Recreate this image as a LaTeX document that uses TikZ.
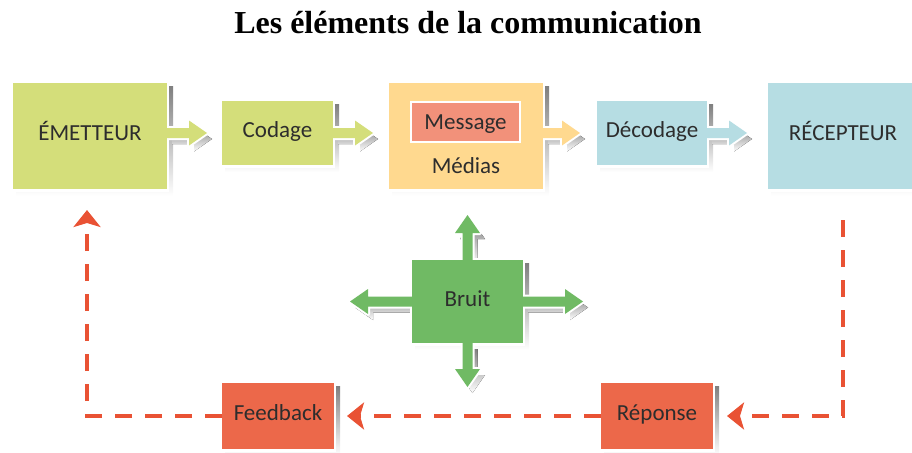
\documentclass[tikz,border=0pt]{standalone}
\usepackage{fontspec}
\setmainfont{Carlito}
\newfontfamily\titlefont{Liberation Serif}
\usetikzlibrary{calc,arrows.meta}

\definecolor{leaf}{RGB}{212,222,122}
\definecolor{sand}{RGB}{255,217,143}
\definecolor{salmon}{RGB}{242,145,122}
\definecolor{sky}{RGB}{182,221,227}
\definecolor{grass}{RGB}{112,186,100}
\definecolor{brick}{RGB}{236,104,74}
\definecolor{signal}{RGB}{233,82,52}
\definecolor{ink}{RGB}{45,45,45}
\definecolor{shade}{RGB}{158,158,158}

\pgfdeclarelayer{shadow}
\pgfdeclarelayer{halo}
\pgfdeclarelayer{paint}
\pgfsetlayers{shadow,halo,paint,main}

% coloured box behind a named node: offset shadow, white rim, fill
\newcommand\paintbox[2]{%
  \begin{pgfonlayer}{shadow}
    \fill[shade] ($(#1.north west)+(3,3)$) rectangle ($(#1.south east)+(6,7)$);
  \end{pgfonlayer}
  \begin{pgfonlayer}{halo}
    \fill[white] ($(#1.north west)+(-2,-2)$) rectangle ($(#1.south east)+(2,3)$);
  \end{pgfonlayer}
  \begin{pgfonlayer}{paint}
    \fill[#2] (#1.north west) rectangle (#1.south east);
  \end{pgfonlayer}}

% block arrow from a base point to a tip point, same three layers
\newcommand\blockarrow[3]{%
  \coordinate (hb) at ($(#3)!18pt!(#2)$);
  \def\arrowoutline{($(#2)!5pt!90:(#3)$) -- ($(hb)!5pt!90:(#3)$) -- ($(hb)!12.5pt!90:(#3)$) -- (#3)
    -- ($(hb)!12.5pt!-90:(#3)$) -- ($(hb)!5pt!-90:(#3)$) -- ($(#2)!5pt!-90:(#3)$) -- cycle}%
  \begin{pgfonlayer}{shadow}
    \begin{scope}[transform canvas={shift={(5,6)}}]
      \fill[shade] \arrowoutline;
    \end{scope}
  \end{pgfonlayer}
  \begin{pgfonlayer}{halo}
    \filldraw[white, line width=4pt, line join=round] \arrowoutline;
  \end{pgfonlayer}
  \begin{pgfonlayer}{paint}
    \fill[#1] \arrowoutline;
  \end{pgfonlayer}}

\tikzset{
  box/.style={rectangle, inner sep=0pt, outer sep=0pt, text=ink,
    font=\fontsize{23}{25}\selectfont, text height=14.5pt, text depth=5pt},
  bigbox/.style={box, minimum width=154, minimum height=106},
  smallbox/.style={box, minimum width=111, minimum height=64},
  dashline/.style={signal, line width=4.5pt, dash pattern=on 17pt off 13pt},
  tip/.style={-{Stealth[length=17pt, width=27pt, inset=4pt]}}
}

\begin{document}
\begin{tikzpicture}[x=1pt, y=-1pt]
\useasboundingbox (0,0) rectangle (912,452);

% title
\node[anchor=base, font=\titlefont\bfseries\fontsize{32}{36}\selectfont] (title)
  at (468,34) {Les éléments de la communication};

% top chain
\node[bigbox] (emet) at (90,136) {ÉMETTEUR};
\node[smallbox] (codage) at (277.5,133) {Codage};
\node[bigbox] (medias) at (466,136) {};
\node[smallbox, minimum width=110] (decod) at (652,133) {Décodage};
\node[bigbox, minimum width=150] (recep) at (843,136) {RÉCEPTEUR};

\node[box, minimum width=109, minimum height=40, text height=14.5pt, text depth=0pt,
      fill=salmon, draw=white, line width=1.5pt] (message) at (465.5,122) {Message};
\node[anchor=base, text=ink, font=\fontsize{23}{25}\selectfont] (mediastxt)
  at (466,173) {Médias};

\paintbox{emet}{leaf}
\paintbox{codage}{leaf}
\paintbox{medias}{sand}
\paintbox{decod}{sky}
\paintbox{recep}{sky}

\coordinate (a1) at ($(emet.east |- codage.west)$);
\coordinate (t1) at ($(codage.west)+(-15,0)$);
\coordinate (t2) at ($(medias.west |- codage.east)+(-16,0)$);
\coordinate (a3) at ($(medias.east |- decod.west)$);
\coordinate (t3) at ($(decod.west)+(-17,0)$);
\coordinate (t4) at ($(recep.west |- decod.east)+(-21,0)$);

\blockarrow{leaf}{a1}{t1}
\blockarrow{leaf}{codage.east}{t2}
\blockarrow{sand}{a3}{t3}
\blockarrow{sky}{decod.east}{t4}

% noise
\node[box, minimum width=111, minimum height=83] (bruit) at (467.5,301.5) {Bruit};
\paintbox{bruit}{grass}
\coordinate (bu) at (467.5,215);
\coordinate (bd) at (467.5,387);
\coordinate (bl) at (350,301.5);
\coordinate (br) at (583,301.5);
\blockarrow{grass}{bruit.north}{bu}
\blockarrow{grass}{bruit.south}{bd}
\blockarrow{grass}{bruit.west}{bl}
\blockarrow{grass}{bruit.east}{br}

% return path
\node[box, minimum width=112, minimum height=66] (feedback) at (278,416) {Feedback};
\node[box, minimum width=112, minimum height=66] (reponse) at (657,416) {Réponse};
\paintbox{feedback}{brick}
\paintbox{reponse}{brick}

\coordinate (rstart) at ($(recep.south)+(0,31)$);
\coordinate (rtip) at ($(reponse.east)+(14,0)$);
\coordinate (ftip) at ($(feedback.east)+(13,0)$);
\coordinate (etip) at ($(emet.south)+(-3,21)$);

\draw[dashline, tip] (rstart) |- (rtip);
\draw[dashline, tip] (reponse.west) -- (ftip);
\draw[dashline, tip] (feedback.west) -| (etip);
\end{tikzpicture}
\end{document}
